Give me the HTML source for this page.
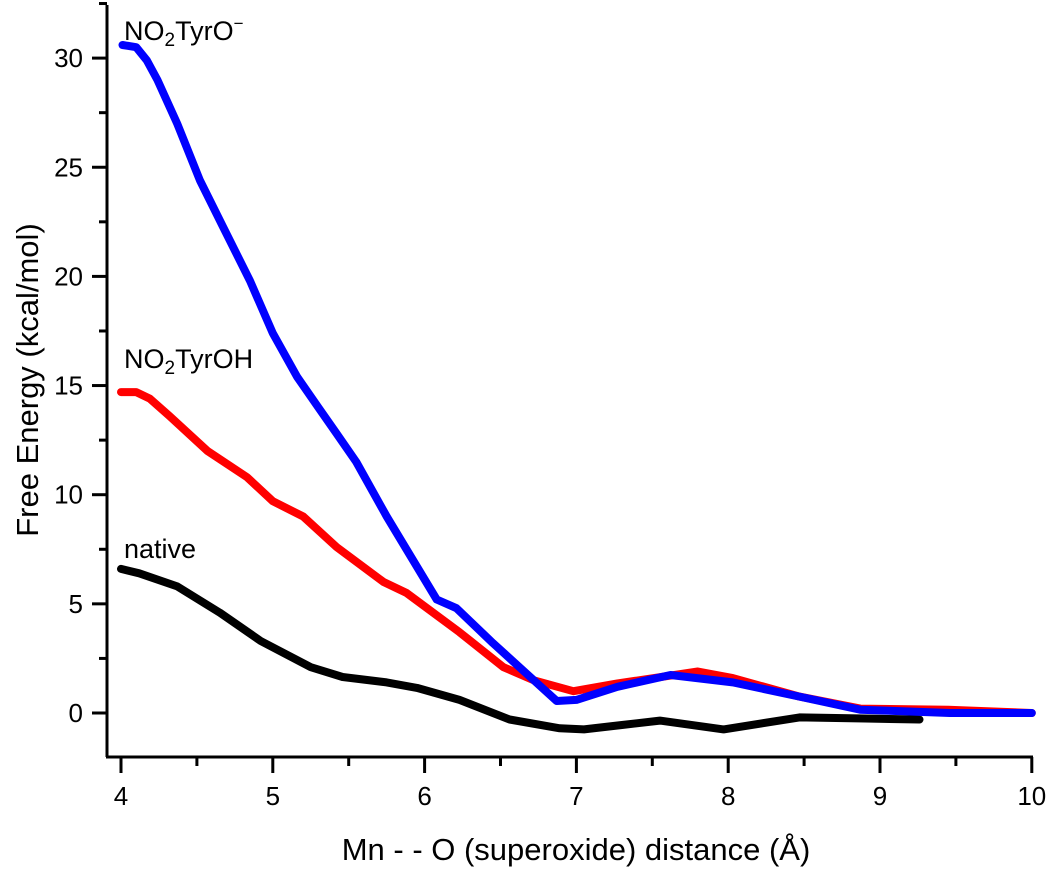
<!DOCTYPE html>
<html><head><meta charset="utf-8"><style>
body{margin:0;background:#fff;}
svg{display:block;font-family:"Liberation Sans",Arial,sans-serif;}
</style></head><body>
<svg id="chart" width="1050" height="874" viewBox="0 0 1050 874">
<g id="axes"></g><g id="series"></g>
<text x="124" y="40" font-size="27">NO<tspan font-size="19" dy="6">2</tspan><tspan dy="-6">TyrO</tspan><tspan font-size="17" dy="-11">−</tspan></text>
<text x="124" y="368" font-size="27">NO<tspan font-size="19" dy="6">2</tspan><tspan dy="-6">TyrOH</tspan></text>
<text x="124" y="558" font-size="27">native</text>
<text transform="translate(38,380) rotate(-90)" text-anchor="middle" font-size="31">Free Energy (kcal/mol)</text>
<text x="576" y="860" text-anchor="middle" font-size="31">Mn - - O (superoxide) distance (Å)</text>
</svg>
<script>
const xTicks=[4,5,6,7,8,9,10];
const yTicks=[0,5,10,15,20,25,30];
const blueX=[4.01,4.1,4.17,4.24,4.37,4.52,4.67,4.85,5.0,5.16,5.3,5.42,5.55,5.75,6.08,6.21,6.45,6.72,6.87,7.0,7.27,7.62,8.03,8.47,8.87,9.46,10];
const blueY=[30.6,30.5,29.9,29.0,27.0,24.4,22.3,19.8,17.4,15.4,14.0,12.8,11.5,9.0,5.2,4.8,3.2,1.5,0.55,0.6,1.2,1.74,1.4,0.75,0.15,0.0,0.0];
const redX=[4.0,4.1,4.19,4.32,4.57,4.83,5.0,5.2,5.42,5.73,5.88,6.23,6.52,6.72,6.98,7.27,7.8,8.03,8.47,8.87,9.45,10];
const redY=[14.7,14.7,14.4,13.6,12.0,10.8,9.7,9.0,7.6,6.0,5.5,3.7,2.1,1.5,1.0,1.35,1.9,1.6,0.75,0.2,0.15,0.0];
const blackX=[4.0,4.12,4.37,4.65,4.92,5.25,5.46,5.75,5.95,6.23,6.56,6.89,7.05,7.3,7.55,7.97,8.47,8.9,9.26];
const blackY=[6.6,6.4,5.8,4.6,3.3,2.1,1.65,1.4,1.15,0.6,-0.3,-0.7,-0.75,-0.55,-0.35,-0.75,-0.2,-0.25,-0.3];
const NS="http://www.w3.org/2000/svg";
const sx=v=>121+(v-4)*151.8;
const sy=v=>713-v*21.83;
const ax=document.getElementById('axes'), se=document.getElementById('series');
function mk(tag,attrs,parent){const e=document.createElementNS(NS,tag);for(const k in attrs)e.setAttribute(k,attrs[k]);parent.appendChild(e);return e;}
const yl=mk('line',{x1:107,y1:5,x2:107,y2:757,stroke:'#000','stroke-width':3},ax);


const xl=mk('line',{x1:106,y1:757,x2:1033,y2:757,stroke:'#000','stroke-width':3},ax);


yTicks.forEach(t=>{
  const l=mk('line',{x1:92,x2:107,y1:sy(t),y2:sy(t),stroke:'#000','stroke-width':3},ax);
  
  
  const m=mk('line',{x1:99,x2:107,y1:sy(t+2.5),y2:sy(t+2.5),stroke:'#000','stroke-width':3},ax);
  
  
  const tx=mk('text',{x:83,y:sy(t)+9,'text-anchor':'end','font-size':26},ax);
  tx.textContent=t;
  
  
});
xTicks.forEach((t,i)=>{
  const l=mk('line',{x1:sx(t),x2:sx(t),y1:757,y2:773,stroke:'#000','stroke-width':3},ax);
  
  
  if(i<xTicks.length-1){
    const m=mk('line',{x1:sx(t+0.5),x2:sx(t+0.5),y1:757,y2:766,stroke:'#000','stroke-width':3},ax);
    
    
  }
  const tx=mk('text',{x:sx(t),y:805,'text-anchor':'middle','font-size':26},ax);
  tx.textContent=t;
  
  
});
function line(xs,ys,color,name){
  const d=xs.map((x,i)=>(i?'L':'M')+sx(x).toFixed(1)+','+sy(ys[i]).toFixed(1)).join(' ');
  const p=mk('path',{d:d,fill:'none',stroke:color,'stroke-width':8,'stroke-linejoin':'round','stroke-linecap':'round'},se);
  
  
}
line(blackX,blackY,'#000','native-line');
line(redX,redY,'#f00','no2tyroh-line');
line(blueX,blueY,'#00f','no2tyro-minus-line');
</script>
</body></html>
